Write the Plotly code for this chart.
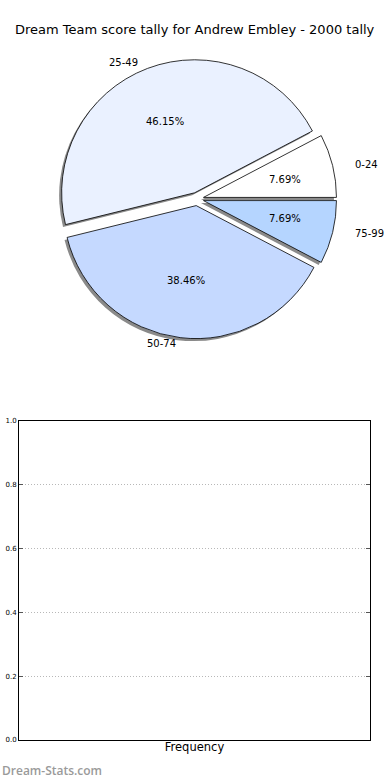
import math
import plotly.graph_objects as go

# ---- data ----
title_text = "Dream Team score tally for Andrew Embley - 2000 tally"
score_bands = ["0-24", "25-49", "50-74", "75-99"]
band_counts = [1, 6, 5, 1]
band_colors = ["#ffffff", "#eaf1ff", "#c5d9ff", "#b5d5ff"]
freq_categories = []
freq_values = []
y_ticks = [0.0, 0.2, 0.4, 0.6, 0.8, 1.0]
x_axis_label = "Frequency"
watermark = "Dream-Stats.com"

W, H = 390, 780
FONT = "DejaVu Sans"

# ---- pie geometry (pixels) ----
cx_px, cy_px = 197.0, 199.0
r_px = 133.0
pull = 0.05
half = r_px * (1 + pull)

total = sum(band_counts)
# plotly: for counterclockwise pies the first slice ends at `rotation`;
# we want the first slice to start at 3 o'clock (matplotlib startangle=0)
pie_rotation = 90 - 360.0 * band_counts[0] / total


def px_dom_x(a, b):
    return [a / W, b / W]


def px_dom_y(top, bottom):
    return [(H - bottom) / H, (H - top) / H]


shadow_dx, shadow_dy = -2.5, 2.5

fig = go.Figure()

# shadow pie
fig.add_trace(go.Pie(
    labels=score_bands, values=band_counts, sort=False,
    direction="counterclockwise", rotation=pie_rotation,
    pull=[pull] * len(band_counts),
    marker=dict(colors=["#8a8a8a"] * len(band_counts), line=dict(width=0)),
    textinfo="none", hoverinfo="skip", showlegend=False,
    domain=dict(x=px_dom_x(cx_px - half + shadow_dx, cx_px + half + shadow_dx),
                y=px_dom_y(cy_px - half + shadow_dy, cy_px + half + shadow_dy)),
))

# main pie
fig.add_trace(go.Pie(
    labels=score_bands, values=band_counts, sort=False,
    direction="counterclockwise", rotation=pie_rotation,
    pull=[pull] * len(band_counts),
    marker=dict(colors=band_colors, line=dict(color="#000000", width=0.8)),
    textinfo="none", showlegend=False,
    domain=dict(x=px_dom_x(cx_px - half, cx_px + half),
                y=px_dom_y(cy_px - half, cy_px + half)),
))

# labels and percentages computed from the data
annotations = []
start = 0.0
rx_txt, ry_txt = 140.0, 127.0
for lab, v in zip(score_bands, band_counts):
    frac = v / total
    mid = (start + frac / 2) * 2 * math.pi
    start += frac
    c, s = math.cos(mid), math.sin(mid)
    px = cx_px + (0.6 + pull) * rx_txt * c
    py = cy_px - (0.6 + pull) * ry_txt * s
    annotations.append(dict(
        x=px / W, y=(H - py) / H, xref="paper", yref="paper",
        text=f"{frac * 100:.2f}%", showarrow=False,
        xanchor="center", yanchor="middle",
        font=dict(family=FONT, size=10, color="#000000")))
    lx = cx_px + (1.1 + pull) * rx_txt * c
    ly = cy_px - (1.1 + pull) * ry_txt * s
    annotations.append(dict(
        x=lx / W, y=(H - ly) / H, xref="paper", yref="paper",
        text=lab, showarrow=False,
        xanchor="left" if c > 0 else "right", yanchor="middle",
        font=dict(family=FONT, size=10, color="#000000")))

annotations.append(dict(
    x=195 / W, y=(H - 30) / H, xref="paper", yref="paper",
    text=title_text, showarrow=False, xanchor="center", yanchor="middle",
    font=dict(family=FONT, size=13, color="#000000")))

annotations.append(dict(
    x=0.0, y=(H - 770) / H, xref="paper", yref="paper",
    text=watermark, showarrow=False, xanchor="left", yanchor="middle",
    font=dict(family="Open Sans", size=12, weight=600, color="#9a9a9a")))

# empty frequency chart
fig.add_trace(go.Bar(x=freq_categories, y=freq_values, showlegend=False,
                     xaxis="x", yaxis="y"))

fig.update_layout(
    width=W, height=H,
    margin=dict(l=0, r=0, t=0, b=0, autoexpand=False),
    paper_bgcolor="#ffffff", plot_bgcolor="#ffffff",
    font=dict(family=FONT, color="#000000"),
    annotations=annotations,
    xaxis=dict(domain=px_dom_x(19, 370), range=[0, 1], anchor="y",
               automargin=False,
               showticklabels=False, ticks="", showgrid=False, zeroline=False,
               showline=True, linecolor="#000000", linewidth=1, mirror=True,
               title=dict(text=x_axis_label, standoff=2,
                          font=dict(family=FONT, size=11.5, color="#000000"))),
    yaxis=dict(domain=px_dom_y(421, 740), range=[0, 1], anchor="x",
               automargin=False,
               tickvals=y_ticks, ticktext=[f"{t:.1f}" for t in y_ticks],
               ticks="inside", ticklen=4, tickcolor="#555555", mirror="ticks",
               showline=True, linecolor="#000000", linewidth=1,
               showgrid=True, gridcolor="#b8b8b8", griddash="1px,2px", gridwidth=1,
               zeroline=False,
               tickfont=dict(family=FONT, size=7, color="#000000")),
)

fig.write_html(
    "out.html",
    config={"displayModeBar": False},
    post_script="document.body.style.margin='0';document.body.style.padding='0';",
)
